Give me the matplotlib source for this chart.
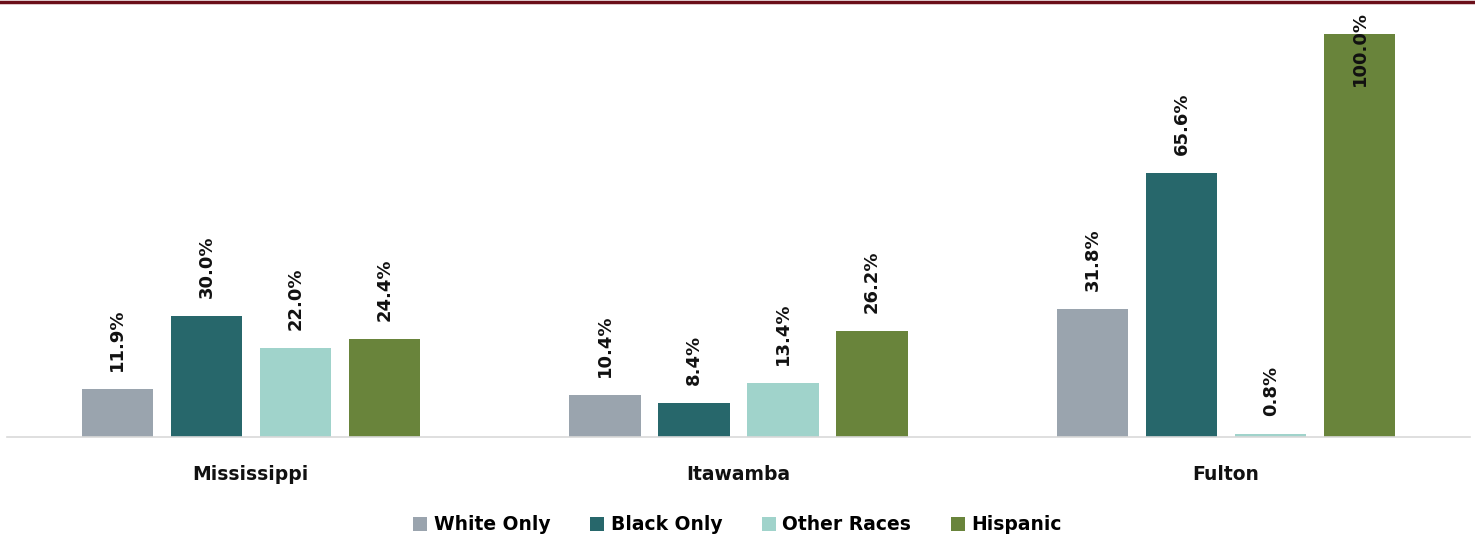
import numpy as np
import matplotlib.pyplot as plt
from matplotlib.patches import Patch

plt.rcParams['font.family'] = ['DejaVu Sans']

# dados
regioes = ['Mississippi', 'Itawamba', 'Fulton']
grupos = ['White Only', 'Black Only', 'Other Races', 'Hispanic']
white_only = [11.9, 10.4, 31.8]
black_only = [30.0, 8.4, 65.6]
other_races = [22.0, 13.4, 0.8]
hispanic = [24.4, 26.2, 100.0]
cores = ['#9aa4ae', '#27676b', '#a0d3cb', '#69843b']

series = [white_only, black_only, other_races, hispanic]

fig = plt.figure(figsize=(14.75, 5.38), dpi=100)
ax = fig.add_axes([7/1475, 1 - 437/538, 1463/1475, 429/538])
ymax = 100 * 429 / 403

x = np.arange(len(regioes))
passo = 0.1825
largura = 0.146
for i, (vals, cor) in enumerate(zip(series, cores)):
    pos = x + (i - 1.5) * passo
    ax.bar(pos, vals, width=largura, color=cor)
    for px, v in zip(pos, vals):
        txt = f'{v:.1f}%'
        if v > 90:
            # rotulo empurrado para dentro da barra, como no original
            ax.annotate(txt, (px, ymax), xytext=(0, -2), textcoords='offset points',
                        rotation=90, ha='center', va='top', fontsize=13, fontweight='bold',
                        color='#111111')
        else:
            ax.annotate(txt, (px, v), xytext=(0, 13), textcoords='offset points',
                        rotation=90, ha='center', va='bottom', fontsize=13, fontweight='bold',
                        color='#111111')

ax.set_xlim(-0.5, 2.5)
ax.set_ylim(0, ymax)
ax.set_xticks(x)
ax.set_xticklabels(regioes, fontsize=13.5, fontweight='bold', color='#111111')
ax.tick_params(axis='x', length=0, pad=20)
ax.set_yticks([])
for s in ['top', 'left', 'right']:
    ax.spines[s].set_visible(False)
ax.spines['bottom'].set_color('#d9d9d9')
ax.spines['bottom'].set_linewidth(1.2)

# linha vermelha no topo
fig.add_artist(plt.Line2D([0, 1], [1 - 1.5/538, 1 - 1.5/538], color='#6b0f1a', lw=2.5))

handles = [Patch(facecolor=c, label=g) for c, g in zip(cores, grupos)]
fig.legend(handles=handles, loc='center', bbox_to_anchor=(0.5, 1 - 525/538), ncol=4,
           frameon=False, handlelength=0.75, handleheight=0.75, handletextpad=0.35,
           columnspacing=2.1, prop={'size': 13.5, 'weight': 'bold'})

fig.savefig('out.png', dpi=100)
